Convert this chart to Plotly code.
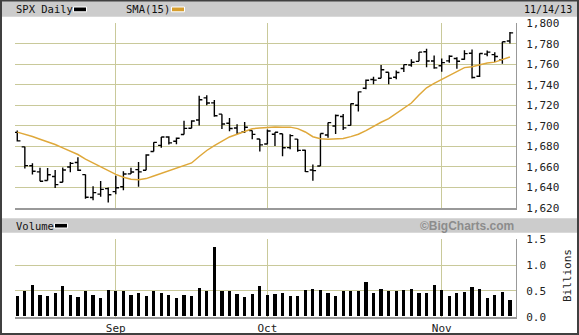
import plotly.graph_objects as go

W, H = 579, 335

dates = [
    "2013-08-14", "2013-08-15", "2013-08-16", "2013-08-19", "2013-08-20", "2013-08-21", "2013-08-22",
    "2013-08-23", "2013-08-26", "2013-08-27", "2013-08-28", "2013-08-29", "2013-08-30",
    "2013-09-03", "2013-09-04", "2013-09-05", "2013-09-06", "2013-09-09", "2013-09-10", "2013-09-11",
    "2013-09-12", "2013-09-13", "2013-09-16", "2013-09-17", "2013-09-18", "2013-09-19", "2013-09-20",
    "2013-09-23", "2013-09-24", "2013-09-25", "2013-09-26", "2013-09-27", "2013-09-30",
    "2013-10-01", "2013-10-02", "2013-10-03", "2013-10-04", "2013-10-07", "2013-10-08", "2013-10-09",
    "2013-10-10", "2013-10-11", "2013-10-14", "2013-10-15", "2013-10-16", "2013-10-17", "2013-10-18",
    "2013-10-21", "2013-10-22", "2013-10-23", "2013-10-24", "2013-10-25", "2013-10-28", "2013-10-29",
    "2013-10-30", "2013-10-31",
    "2013-11-01", "2013-11-04", "2013-11-05", "2013-11-06", "2013-11-07", "2013-11-08", "2013-11-11",
    "2013-11-12", "2013-11-13", "2013-11-14",
]

opens = [1693.66, 1679.61, 1661.22, 1655.25, 1646.81, 1650.66, 1645.03, 1659.92, 1664.29, 1652.54, 1630.25, 1633.50, 1638.89,
         1635.95, 1640.72, 1653.28, 1657.44, 1656.85, 1675.11, 1681.04, 1689.21, 1685.04, 1691.70, 1697.73, 1705.74, 1727.34,
         1722.44, 1711.44, 1702.60, 1698.02, 1694.05, 1695.52, 1687.26,
         1682.41, 1691.90, 1692.35, 1678.79, 1687.15, 1676.22, 1656.99, 1660.88, 1691.09, 1699.86, 1709.17, 1700.49, 1720.17,
         1736.72, 1745.20, 1746.48, 1752.27, 1747.48, 1756.01, 1759.42, 1762.93, 1772.27, 1763.24,
         1758.70, 1763.40, 1765.67, 1765.00, 1770.74, 1748.37, 1769.96, 1769.51, 1764.37, 1782.75]

highs = [1695.52, 1679.61, 1663.60, 1659.18, 1658.92, 1656.99, 1659.55, 1664.85, 1669.51, 1652.54, 1641.18, 1646.41, 1640.08,
         1651.35, 1655.72, 1659.17, 1664.83, 1672.40, 1684.09, 1689.13, 1689.97, 1688.73, 1704.95, 1705.52, 1729.44, 1729.86,
         1725.23, 1711.44, 1707.63, 1701.71, 1703.85, 1695.52, 1687.26,
         1696.55, 1693.87, 1692.35, 1691.94, 1687.15, 1676.79, 1662.47, 1692.56, 1703.44, 1711.03, 1711.57, 1721.76, 1733.45,
         1745.31, 1747.79, 1759.33, 1752.27, 1753.94, 1759.82, 1764.99, 1772.09, 1775.22, 1768.53,
         1765.67, 1768.78, 1767.03, 1773.74, 1774.54, 1770.78, 1773.44, 1771.78, 1782.00, 1791.53]

lows = [1684.83, 1658.59, 1652.61, 1646.06, 1646.81, 1639.43, 1645.03, 1654.81, 1656.02, 1629.05, 1627.47, 1630.88, 1625.27,
        1633.41, 1637.41, 1653.07, 1640.62, 1656.85, 1675.11, 1678.70, 1681.96, 1682.22, 1691.70, 1697.73, 1700.35, 1720.20,
        1708.89, 1697.10, 1694.90, 1691.88, 1693.11, 1687.11, 1674.99,
        1682.07, 1680.34, 1670.36, 1677.33, 1674.70, 1655.03, 1646.47, 1660.88, 1688.52, 1692.13, 1695.93, 1700.49, 1714.12,
        1735.74, 1740.67, 1746.48, 1740.50, 1745.50, 1752.45, 1757.67, 1762.93, 1757.24, 1755.72,
        1752.70, 1761.56, 1755.76, 1764.40, 1746.20, 1747.63, 1767.85, 1762.29, 1760.64, 1780.22]

closes = [1685.39, 1661.32, 1655.83, 1646.06, 1652.35, 1642.80, 1656.96, 1663.50, 1656.78, 1630.48, 1634.96, 1638.17, 1632.97,
          1639.77, 1653.08, 1655.08, 1655.17, 1671.71, 1683.99, 1689.13, 1683.42, 1687.99, 1697.60, 1704.76, 1725.52, 1722.34,
          1709.91, 1701.84, 1697.42, 1692.77, 1698.67, 1691.75, 1681.55,
          1695.00, 1693.87, 1678.66, 1690.50, 1676.12, 1655.45, 1656.40, 1692.56, 1703.20, 1710.14, 1698.06, 1721.54, 1733.15,
          1744.50, 1744.66, 1754.67, 1746.38, 1752.07, 1759.77, 1762.11, 1771.95, 1763.31, 1756.54,
          1761.64, 1767.93, 1762.97, 1770.49, 1747.15, 1770.61, 1771.89, 1767.69, 1782.00, 1790.62]

sma15 = [1693.92, 1691.99, 1689.60, 1686.99, 1684.74, 1681.88, 1678.56, 1675.48, 1672.12, 1667.66, 1663.93, 1659.98, 1656.08,
         1652.77, 1650.03, 1648.01, 1647.60, 1648.66, 1651.18, 1653.64, 1656.34, 1658.41, 1660.69, 1663.89, 1670.22, 1676.05,
         1680.83, 1685.42, 1689.26, 1691.91, 1694.82, 1697.25, 1697.91,
         1698.64, 1698.96, 1698.64, 1698.81, 1697.38, 1694.09, 1689.48, 1687.50, 1687.05, 1687.60, 1687.65, 1689.56, 1691.86,
         1695.38, 1699.59, 1703.57, 1707.07, 1711.96, 1716.58, 1722.31, 1730.08, 1737.20, 1741.47,
         1745.37, 1749.22, 1753.55, 1756.81, 1757.74, 1759.48, 1761.30, 1762.17, 1764.54, 1767.11]

volume_bn = [0.40, 0.49, 0.61, 0.42, 0.40, 0.46, 0.59, 0.42, 0.38, 0.49, 0.42, 0.36, 0.52,
             0.50, 0.50, 0.42, 0.46, 0.40, 0.49, 0.46, 0.42, 0.36, 0.42, 0.40, 0.56, 0.49, 1.35, 0.49, 0.49, 0.44, 0.38, 0.44, 0.59,
             0.42, 0.44, 0.46, 0.40, 0.40, 0.52, 0.54, 0.52, 0.46, 0.40, 0.49, 0.50, 0.50, 0.67, 0.46, 0.54, 0.50, 0.50, 0.52,
             0.54, 0.46, 0.46, 0.61,
             0.52, 0.40, 0.46, 0.48, 0.57, 0.54, 0.36, 0.42, 0.48, 0.32]

month_ticks = ["2013-09-03", "2013-10-01", "2013-11-01"]
month_labels = ["Sep", "Oct", "Nov"]
price_ticks = list(range(1620, 1801, 20))
volume_ticks = [0.0, 0.5, 1.0, 1.5]

GRID = "#c9c99a"
AXL = "#999999"
MONO = "DejaVu Sans Mono"
SMA_C = "#dfa83a"


def px(x):
    return x / W


def py(y):
    return 1 - y / H


fig = go.Figure()
fig.add_trace(go.Ohlc(x=dates, open=opens, high=highs, low=lows, close=closes,
                      increasing=dict(line=dict(color="black", width=1.4)),
                      decreasing=dict(line=dict(color="black", width=1.4)),
                      tickwidth=0.42, xaxis="x", yaxis="y", hoverinfo="skip", showlegend=False))
fig.add_trace(go.Scatter(x=dates, y=sma15, mode="lines", line=dict(color=SMA_C, width=1.5),
                         xaxis="x", yaxis="y", hoverinfo="skip", showlegend=False))
fig.add_trace(go.Bar(x=dates, y=volume_bn, marker=dict(color="black", line=dict(width=0)), width=0.42,
                     xaxis="x2", yaxis="y2", hoverinfo="skip", showlegend=False))

xdom = [px(15), px(516)]
common_x = dict(type="category", range=[-0.3, 65.8], tickvals=month_ticks, showgrid=True,
                gridcolor=GRID, gridwidth=1, zeroline=False, showline=True, linecolor=AXL,
                linewidth=2, ticks="", fixedrange=True)
fig.update_layout(
    width=W, height=H, margin=dict(l=0, r=0, t=0, b=0, autoexpand=False),
    paper_bgcolor="white", plot_bgcolor="white", bargap=0,
    xaxis=dict(domain=xdom, anchor="y", showticklabels=False, rangeslider=dict(visible=False), **common_x),
    xaxis2=dict(domain=xdom, anchor="y2", ticktext=month_labels, showticklabels=True,
                tickfont=dict(family=MONO, size=11, color="#222"), **common_x),
    yaxis=dict(domain=[py(208), py(23.3)], range=[1620, 1800], side="right", tickvals=price_ticks,
               tickformat=",d", gridcolor=GRID, gridwidth=1, zeroline=False, showline=True, linecolor=AXL,
               linewidth=1, ticks="", ticklabelstandoff=7, tickfont=dict(family=MONO, size=11, color="#222"),
               fixedrange=True),
    yaxis2=dict(domain=[py(316.7), py(239.3)], range=[0, 1.5], side="right", tickvals=volume_ticks,
                tickformat=".1f", gridcolor=GRID, gridwidth=1, zeroline=False, showline=True, linecolor=AXL,
                linewidth=1, ticks="", ticklabelstandoff=7, tickfont=dict(family=MONO, size=11, color="#222"),
                fixedrange=True),
)

shapes = [
    dict(type="rect", xref="paper", yref="paper", x0=px(2), x1=px(577), y0=py(16.7), y1=py(1),
         fillcolor="#cccccc", line=dict(width=0), layer="below"),
    dict(type="rect", xref="paper", yref="paper", x0=px(2), x1=px(577), y0=py(232.7), y1=py(218.3),
         fillcolor="#cccccc", line=dict(width=0), layer="below"),
    # legend swatches
    dict(type="rect", xref="paper", yref="paper", x0=px(73.5), x1=px(86.5), y0=py(11.8), y1=py(7),
         fillcolor="black", line=dict(color="white", width=1)),
    dict(type="rect", xref="paper", yref="paper", x0=px(171.5), x1=px(184.5), y0=py(11.8), y1=py(7),
         fillcolor="#d69e2e", line=dict(color="white", width=1)),
    dict(type="rect", xref="paper", yref="paper", x0=px(54.5), x1=px(67.5), y0=py(228), y1=py(223.3),
         fillcolor="black", line=dict(color="white", width=1)),
    # outer frame
    dict(type="rect", xref="paper", yref="paper", x0=px(1), x1=px(578), y0=py(334), y1=py(0.5),
         line=dict(color="#404040", width=2), fillcolor="rgba(0,0,0,0)"),
]
fig.update_layout(shapes=shapes)

txt = dict(family=MONO, size=10.5, color="#111")
annotations = [
    dict(text="SPX Daily", x=px(14), y=py(9.3), xanchor="left", yanchor="middle", font=txt),
    dict(text="SMA(15)", x=px(124), y=py(9.3), xanchor="left", yanchor="middle", font=txt),
    dict(text="11/14/13", x=px(522), y=py(9.3), xanchor="left", yanchor="middle",
         font=dict(family=MONO, size=10, color="#111")),
    dict(text="Volume", x=px(14), y=py(225.7), xanchor="left", yanchor="middle", font=txt),
    dict(text="<b>©BigCharts.com</b>", x=px(516), y=py(225.7), xanchor="right", yanchor="middle",
         font=dict(family="Liberation Sans", size=12, color="#8c8c8c")),
    dict(text="Billions", x=px(567), y=py(276), xanchor="center", yanchor="middle", textangle=-90,
         font=dict(family=MONO, size=11, color="#222")),
]
for a in annotations:
    a.update(xref="paper", yref="paper", showarrow=False)
fig.update_layout(annotations=annotations)

fig.write_html("out.html")
